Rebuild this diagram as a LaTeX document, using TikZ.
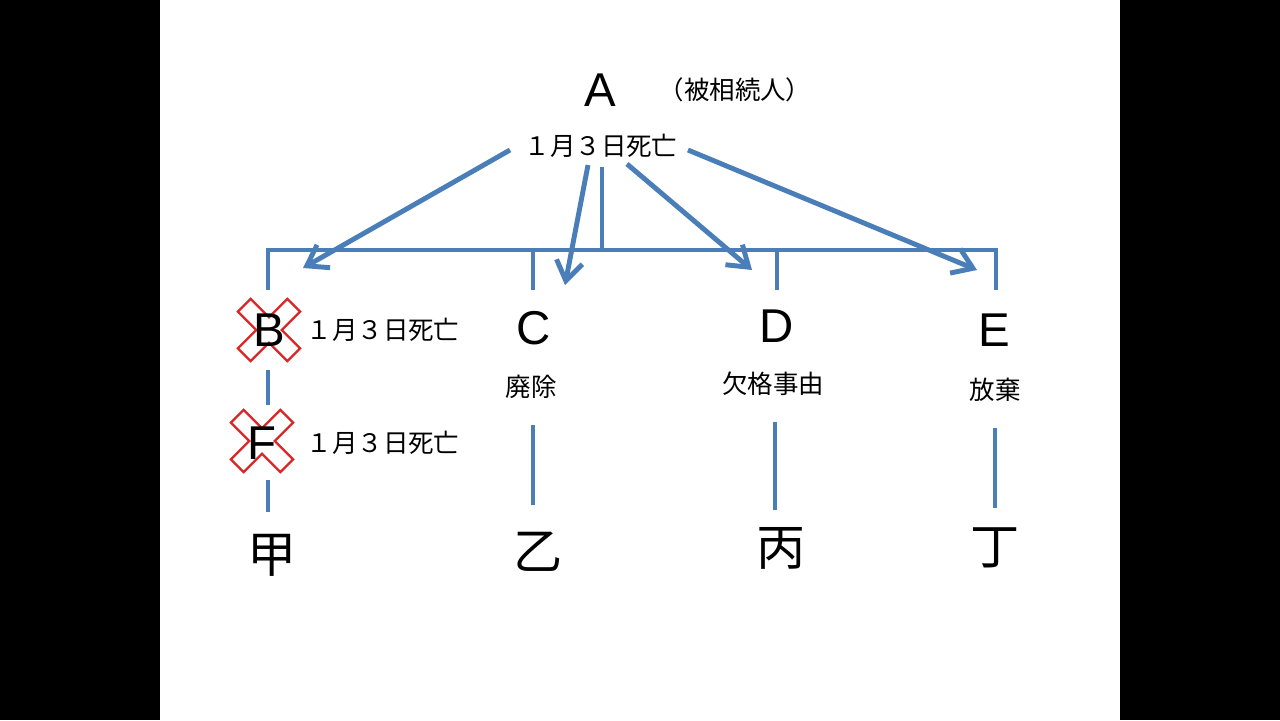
\documentclass[tikz,border=0pt]{standalone}
\usepackage{fontspec}
\setmainfont{Noto Sans CJK JP}
\newfontfamily\letterfont{Liberation Sans}
\usetikzlibrary{arrows.meta, positioning}
\definecolor{lineblue}{RGB}{74,126,184}
\definecolor{crossred}{RGB}{218,38,38}

\tikzset{
  person/.style={inner sep=0pt, font=\letterfont\fontsize{27}{27}\selectfont},
  heir/.style={inner sep=0pt, font=\fontsize{28}{28}\selectfont},
  note/.style={inner sep=0pt, font=\fontsize{14.5}{14.5}\selectfont\addfontfeature{RawFeature=+fwid}},
  link/.style={draw=lineblue, line width=2.8pt},
  inherit/.style={link, -{Straight Barb[length=11pt,width=15pt,line width=2.8pt]}},
  deadcross/.pic={
    \filldraw[fill=white, draw=crossred, line width=1.3pt, rotate=45]
      (9,35) -- (-9,35) -- (-9,9) -- (-35,9) -- (-35,-9) -- (-9,-9)
      -- (-9,-35) -- (9,-35) -- (9,-9) -- (35,-9) -- (35,9) -- (9,9) -- cycle;
  }
}

\begin{document}
\begin{tikzpicture}[x=0.02cm,y=-0.02cm]
% Screen frame
\fill[black] (0,0) rectangle (1280,720);
\fill[white] (160,0) rectangle (1120,720);
\useasboundingbox (0,0) rectangle (1280,720);

% Decedent
\node[person] (A) at (600,90) {A};
\node[note] (Arole) at (735,90) {（被相続人）};
\node[note] (Adeath) at (601,146) {1月3日死亡};

% Tree skeleton
\coordinate (trunk) at (602,167);
\coordinate (barmid) at (602,250);
\coordinate (barB) at (268,250);
\coordinate (barC) at (533,250);
\coordinate (barD) at (777,250);
\coordinate (barE) at (996,250);
\coordinate (dropB) at (268,290);
\coordinate (dropC) at (533,290);
\coordinate (dropD) at (777,290);
\coordinate (dropE) at (996,290);

\draw[link, line join=miter] (dropB) -- (barB) -- (barE) -- (dropE);
\draw[link] (trunk) -- (barmid);
\draw[link] (barC) -- (dropC);
\draw[link] (barD) -- (dropD);

% Arrows from the decedent
\coordinate (tailB) at (510,150);
\coordinate (tailC) at (588,165);
\coordinate (tailD) at (627,164);
\coordinate (tailE) at (688,150);
\coordinate (tipB) at (303,268);
\coordinate (tipC) at (565,285);
\coordinate (tipD) at (752,270);
\coordinate (tipE) at (977,270);
\draw[inherit] (tailB) -- (tipB);
\draw[inherit] (tailC) -- (tipC);
\draw[inherit] (tailD) -- (tipD);
\draw[inherit] (tailE) -- (tipE);

% Line of B
\pic at (269,330) {deadcross};
\node[person] (B) at (269,330) {B};
\node[note] (Bdeath) at (383,330) {1月3日死亡};
\pic at (262,441) {deadcross};
\node[person] (F) at (262,443) {F};
\node[note] (Fdeath) at (383,443) {1月3日死亡};
\node[heir] (ko) at (272,555) {甲};
\coordinate (BFtop) at (268,370);
\coordinate (BFbot) at (268,405);
\coordinate (Fkotop) at (268,480);
\coordinate (Fkobot) at (268,512);
\draw[link] (BFtop) -- (BFbot);
\draw[link] (Fkotop) -- (Fkobot);

% Line of C
\node[person] (C) at (534,328) {C};
\node[note] (Cnote) at (531,387) {廃除};
\node[heir] (otsu) at (538,552) {乙};
\coordinate (Ctop) at (533,425);
\coordinate (Cbot) at (533,505);
\draw[link] (Ctop) -- (Cbot);

% Line of D
\node[person] (D) at (777,326) {D};
\node[note] (Dnote) at (773,384) {欠格事由};
\node[heir] (hei) at (781,548) {丙};
\coordinate (Dtop) at (775,422);
\coordinate (Dbot) at (775,510);
\draw[link] (Dtop) -- (Dbot);

% Line of E
\node[person] (E) at (994,330) {E};
\node[note] (Enote) at (995,390) {放棄};
\node[heir] (tei) at (995,548) {丁};
\coordinate (Etop) at (995,428);
\coordinate (Ebot) at (995,508);
\draw[link] (Etop) -- (Ebot);
\end{tikzpicture}
\end{document}
